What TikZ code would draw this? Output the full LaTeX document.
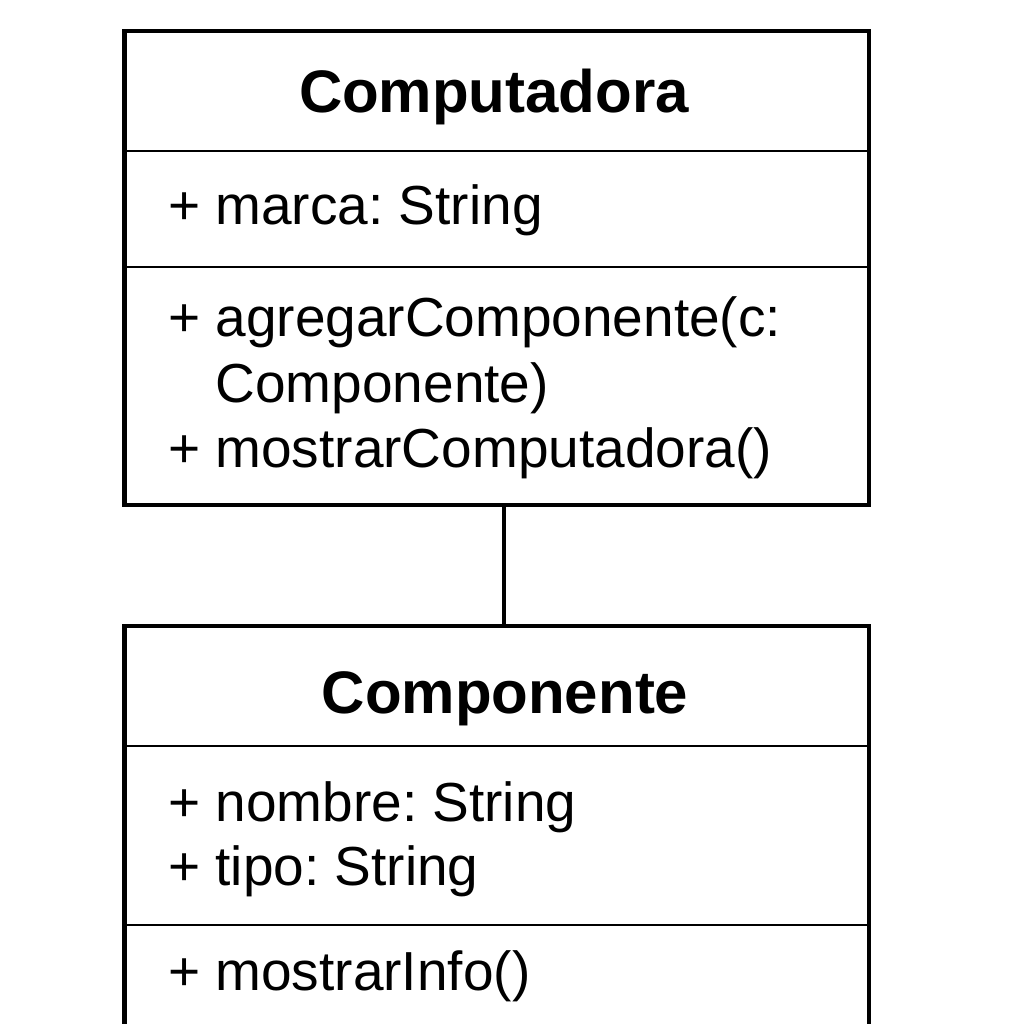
\documentclass[tikz,border=0pt]{standalone}
\usepackage{fontspec}
\setmainfont{Liberation Sans}
\usetikzlibrary{positioning}
\frenchspacing

\tikzset{
  classbox/.style={draw, line width=4.5pt, minimum width=744.5pt, inner sep=0pt, outer sep=0pt, anchor=north west},
  compart/.style={line width=1.6pt},
  classname/.style={font=\fontsize{60}{70}\selectfont\bfseries, anchor=base, inner sep=0pt},
  member/.style={font=\fontsize{55}{65}\selectfont, anchor=base west, inner sep=0pt}
}

\begin{document}
\begin{tikzpicture}[x=1pt,y=-1pt]
\useasboundingbox (0,0) rectangle (1024,1024);

\node[classbox, minimum height=474pt] (compu) at (124.5,31) {};
\node[classbox, minimum height=430pt] (compo) at (124.5,626) {};

\draw[compart] (compu.west |- 0,151) -- (compu.east |- 0,151);
\draw[compart] (compu.west |- 0,267) -- (compu.east |- 0,267);
\draw[compart] (compo.west |- 0,746) -- (compo.east |- 0,746);
\draw[compart] (compo.west |- 0,925) -- (compo.east |- 0,925);

\node[classname] (compuname) at (494,113) {Computadora};
\node[member] (marca) at (168,225) {+ marca: String};
\node[member] (agregar) at (168,336) {+ agregarComponente(c:};
\node[member] (agregarb) at (168,402) {\phantom{+ }Componente)};
\node[member] (mostrarc) at (168,467) {+ mostrarComputadora()};

\node[classname] (componame) at (505,713) {Componente};
\node[member] (nombre) at (168,821) {+ nombre: String};
\node[member] (tipo) at (168,885) {+ tipo: String};
\node[member] (mostrari) at (168,990) {+ mostrarInfo()};

\draw[line width=4.2pt] ([xshift=7.5pt]compu.south) -- ([xshift=7.5pt]compo.north);
\end{tikzpicture}
\end{document}
